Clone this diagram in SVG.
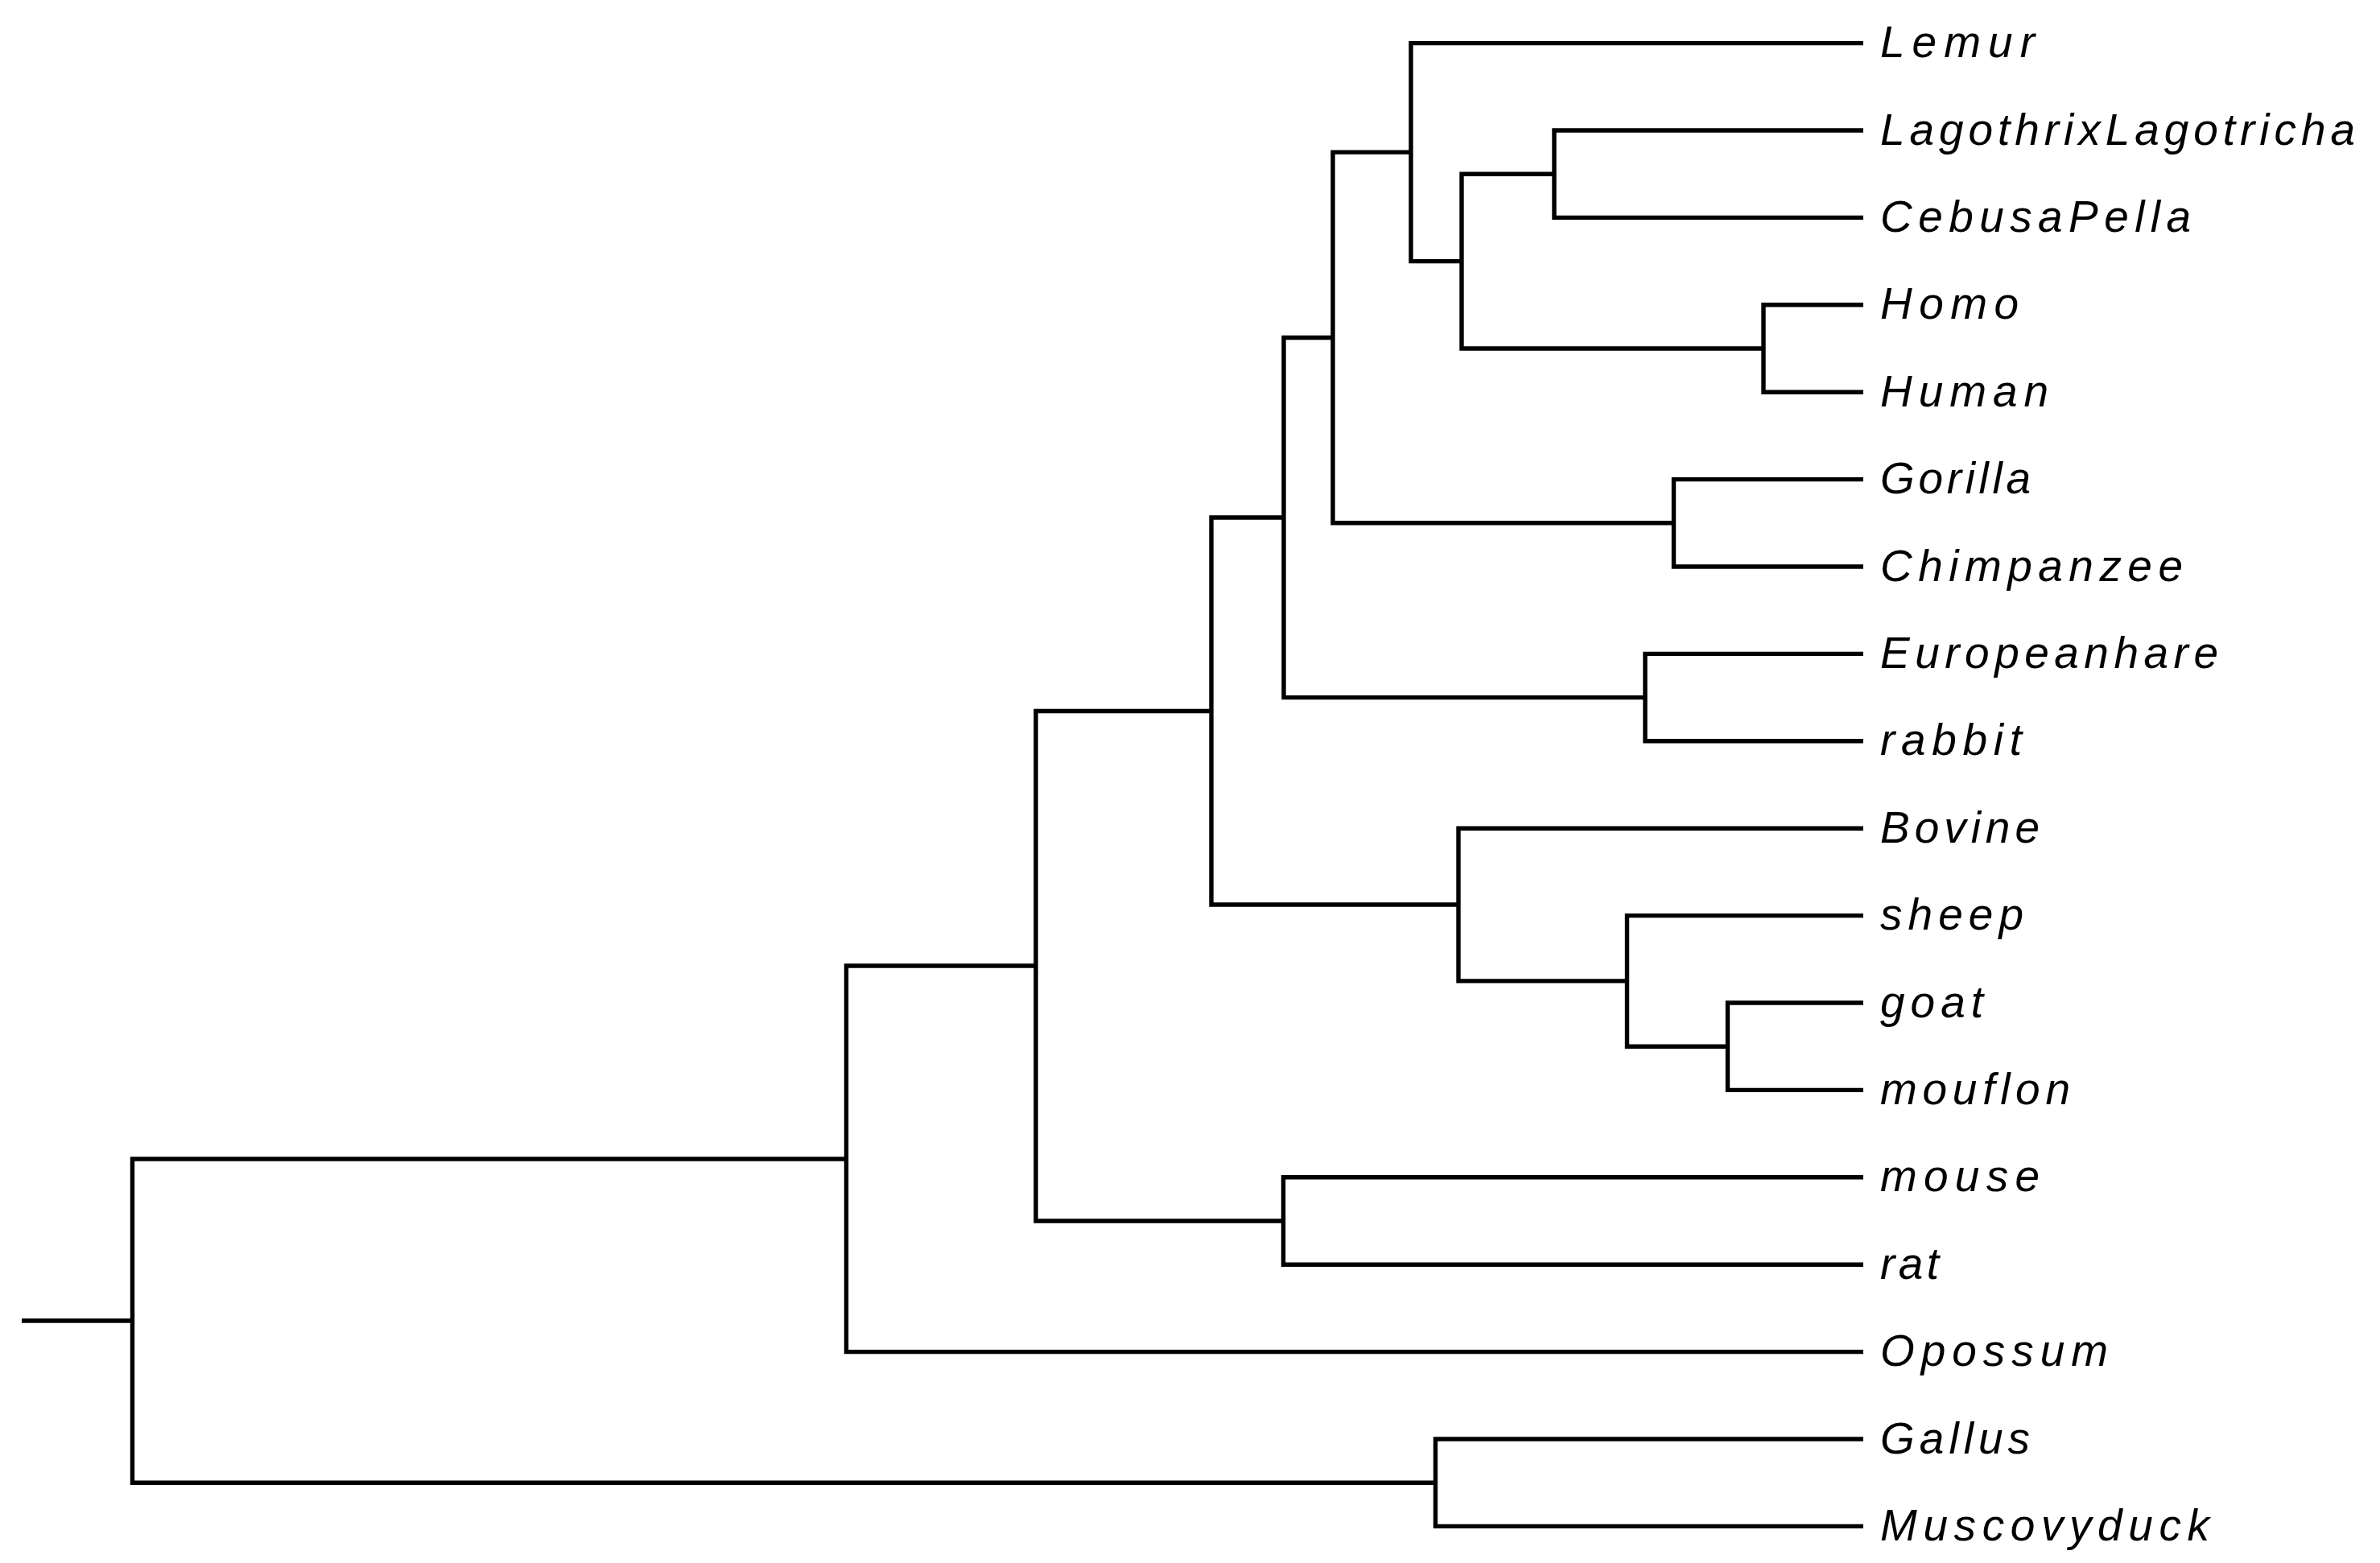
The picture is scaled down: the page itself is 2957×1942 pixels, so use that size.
<svg xmlns="http://www.w3.org/2000/svg" width="2957" height="1942" viewBox="0 0 2957 1942">
<style>
.br{fill:none;stroke:#000;stroke-width:5.4;stroke-linejoin:miter;stroke-linecap:butt}
.lb{font-family:"Liberation Sans",Arial,sans-serif;font-style:italic;font-size:55px;fill:#000}
</style>
<rect width="2957" height="1942" fill="#fff"/>
<g id="connectors">
<path class="br" d="M27,1641 H164.5"/>
<path class="br" d="M1051.5,1440 H164.5 V1842.2 H1783.5"/>
<path class="br" d="M1287,1200 H1051.5 V1679.6 H2315"/>
<path class="br" d="M1505,883.5 H1287 V1517 H1594.5"/>
<path class="br" d="M1595,643 H1505 V1124 H1812"/>
<path class="br" d="M1656,419.45 H1595 V866.6 H2044"/>
<path class="br" d="M1753,189.1 H1656 V649.8 H2079.5"/>
<path class="br" d="M2315,53.6 H1753 V324.6 H1816"/>
<path class="br" d="M1931,216.2 H1816 V433 H2191"/>
<path class="br" d="M2315,162 H1931 V270.4 H2315"/>
<path class="br" d="M2315,378.8 H2191 V487.2 H2315"/>
<path class="br" d="M2315,595.6 H2079.5 V704 H2315"/>
<path class="br" d="M2315,812.4 H2044 V920.8 H2315"/>
<path class="br" d="M2315,1029.2 H1812 V1218.9 H2021.5"/>
<path class="br" d="M2315,1137.6 H2021.5 V1300.2 H2146.5"/>
<path class="br" d="M2315,1246 H2146.5 V1354.4 H2315"/>
<path class="br" d="M2315,1462.8 H1594.5 V1571.2 H2315"/>
<path class="br" d="M2315,1788 H1783.5 V1896.4 H2315"/>
</g>
<g id="leaf-lemur"><text class="lb" x="2336" y="71.1" textLength="192" lengthAdjust="spacing">Lemur</text></g>
<g id="leaf-lagothrix"><text class="lb" x="2336" y="179.5" textLength="590" lengthAdjust="spacing">LagothrixLagotricha</text></g>
<g id="leaf-cebus"><text class="lb" x="2336" y="287.9" textLength="386" lengthAdjust="spacing">CebusaPella</text></g>
<g id="leaf-homo"><text class="lb" x="2336" y="396.3" textLength="172" lengthAdjust="spacing">Homo</text></g>
<g id="leaf-human"><text class="lb" x="2336" y="504.7" textLength="209" lengthAdjust="spacing">Human</text></g>
<g id="leaf-gorilla"><text class="lb" x="2336" y="613.1" textLength="187" lengthAdjust="spacing">Gorilla</text></g>
<g id="leaf-chimpanzee"><text class="lb" x="2336" y="721.5" textLength="376" lengthAdjust="spacing">Chimpanzee</text></g>
<g id="leaf-europeanhare"><text class="lb" x="2336" y="829.9" textLength="420" lengthAdjust="spacing">Europeanhare</text></g>
<g id="leaf-rabbit"><text class="lb" x="2336" y="938.3" textLength="176" lengthAdjust="spacing">rabbit</text></g>
<g id="leaf-bovine"><text class="lb" x="2336" y="1046.7" textLength="198" lengthAdjust="spacing">Bovine</text></g>
<g id="leaf-sheep"><text class="lb" x="2336" y="1155.1" textLength="178" lengthAdjust="spacing">sheep</text></g>
<g id="leaf-goat"><text class="lb" x="2336" y="1263.5" textLength="128" lengthAdjust="spacing">goat</text></g>
<g id="leaf-mouflon"><text class="lb" x="2336" y="1371.9" textLength="236" lengthAdjust="spacing">mouflon</text></g>
<g id="leaf-mouse"><text class="lb" x="2336" y="1480.3" textLength="198" lengthAdjust="spacing">mouse</text></g>
<g id="leaf-rat"><text class="lb" x="2336" y="1588.7" textLength="73" lengthAdjust="spacing">rat</text></g>
<g id="leaf-opossum"><text class="lb" x="2336" y="1697.1" textLength="283" lengthAdjust="spacing">Opossum</text></g>
<g id="leaf-gallus"><text class="lb" x="2336" y="1805.5" textLength="186" lengthAdjust="spacing">Gallus</text></g>
<g id="leaf-muscovyduck"><text class="lb" x="2336" y="1913.9" textLength="409" lengthAdjust="spacing">Muscovyduck</text></g>
</svg>
